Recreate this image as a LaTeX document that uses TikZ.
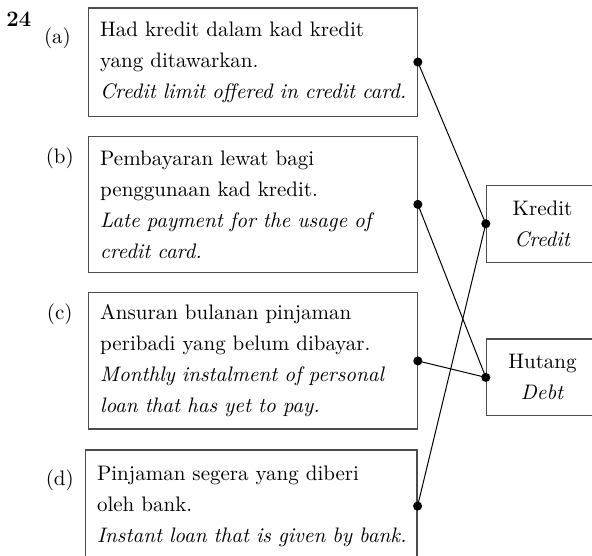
\documentclass[tikz,border=0pt]{standalone}
\usepackage{tikz}

\begin{document}
\begin{tikzpicture}[
        line width=0.5pt,
        box/.style={draw=black!70, line width=0.6pt, align=left,
                    inner xsep=0.21cm, inner ysep=0pt,
                    font=\fontsize{10.5}{15.5}\selectfont},
        answer/.style={box, align=center, minimum width=1.97cm,
                       minimum height=1.35cm},
        tag/.style={anchor=base, font=\fontsize{10.5}{12}\selectfont},
    ]
    \useasboundingbox (0cm, 0cm) rectangle (10.40cm, -9.75cm);

    \node[font=\bfseries\fontsize{11}{12}\selectfont, anchor=base]
        (qnum) at (0.33cm, -0.47cm) {24};

    % statements
    \node[box, text width=5.36cm, minimum height=1.90cm] (a) at (4.44cm, -1.09cm)
        {Had kredit dalam kad kredit\\ yang ditawarkan.\\
         \mbox{\textit{Credit limit offered in credit card.}}};
    \node[box, text width=5.36cm, minimum height=2.39cm] (b) at (4.44cm, -3.59cm)
        {Pembayaran lewat bagi\\ penggunaan kad kredit.\\
         \mbox{\textit{Late payment for the usage of}}\\ \textit{credit card.}};
    \node[box, text width=5.36cm, minimum height=2.39cm] (c) at (4.44cm, -6.34cm)
        {Ansuran bulanan pinjaman\\ peribadi yang belum dibayar.\\
         \mbox{\textit{Monthly instalment of personal}}\\ \textit{loan that has yet to pay.}};
    \node[box, text width=5.41cm, minimum height=1.97cm] (d) at (4.41cm, -8.89cm)
        {Pinjaman segera yang diberi\\ oleh bank.\\
         \mbox{\textit{Instant loan that is given by bank.}}};

    \node[tag] (la) at (1.01cm, -0.76cm) {(a)};
    \node[tag] (lb) at (1.05cm, -2.88cm) {(b)};
    \node[tag] (lc) at (1.05cm, -5.62cm) {(c)};
    \node[tag] (ld) at (1.05cm, -8.52cm) {(d)};

    % answers
    \node[answer] (kredit) at (9.53cm, -3.93cm) {Kredit\\ \textit{Credit}};
    \node[answer] (hutang) at (9.53cm, -6.63cm) {Hutang\\ \textit{Debt}};

    \draw (a.east) -- (kredit.west);
    \draw (b.east) -- (hutang.west);
    \draw (c.east) -- (hutang.west);
    \draw (d.east) -- (kredit.west);

    \foreach \n in {a, b, c, d}
        \fill (\n.east) circle (0.08cm);
    \foreach \n in {kredit, hutang}
        \fill (\n.west) circle (0.08cm);

    \end{tikzpicture}
\end{document}
